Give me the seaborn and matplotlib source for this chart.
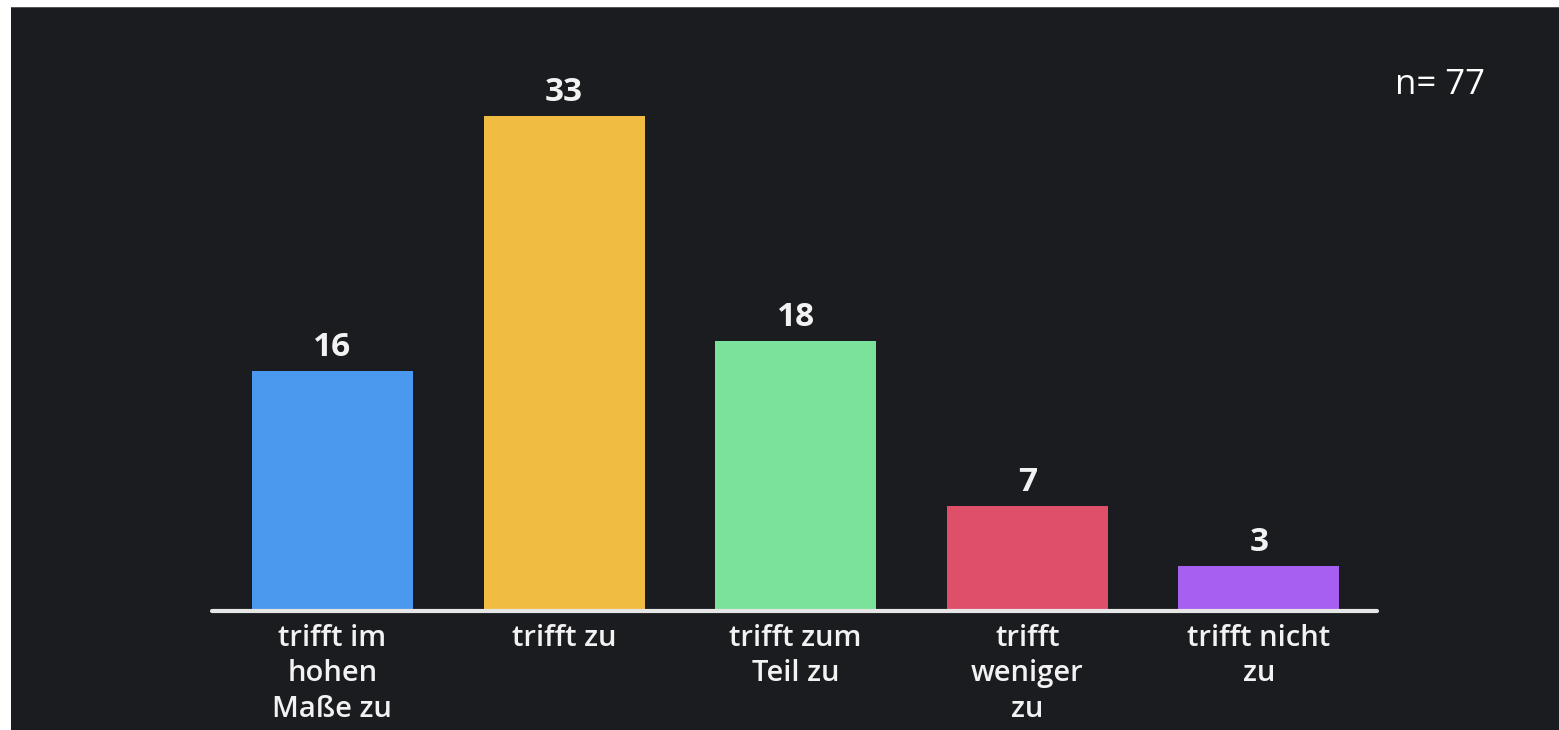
import matplotlib
matplotlib.use("Agg")
import matplotlib.pyplot as plt
import seaborn as sns
import pandas as pd
from matplotlib.patches import Rectangle

categories = ["trifft im\nhohen\nMaße zu", "trifft zu", "trifft zum\nTeil zu", "trifft\nweniger\nzu", "trifft nicht\nzu"]
values = [16, 33, 18, 7, 3]
colors = ["#4b99ef", "#f1bc42", "#7be29b", "#e04f69", "#a65ff1"]
n_label = "n= 77"

BG = "#1b1c1f"
sns.set_theme(style="white")
plt.rcParams['font.family'] = ['Open Sans', 'DejaVu Sans']

fig = plt.figure(figsize=(15.59, 7.30), dpi=100)
fig.patch.set_facecolor("white")
fig.patches.append(Rectangle((11/1559, 0), 1 - 11/1559, 1 - 7/730, transform=fig.transFigure,
                             facecolor=BG, edgecolor="none", zorder=-10))
fig.patches.append(Rectangle((11/1559, 1 - 8/730), 1 - 11/1559, 1.5/730, transform=fig.transFigure,
                             facecolor="#555555", edgecolor="none", zorder=-10))

ax = fig.add_axes([212/1559, 119/730, (1377-212)/1559, 0.719])
ax.set_facecolor("none")

df = pd.DataFrame({"cat": categories, "val": values})
sns.barplot(data=df, x="cat", y="val", hue="cat", palette=colors, legend=False,
            width=0.695, saturation=1, linewidth=0, edgecolor="none", ax=ax)

ax.set_xlim(-0.52, 4.51)
ax.set_ylim(0, 35)
for c in ax.containers:
    ax.bar_label(c, labels=[str(int(v)) for v in c.datavalues], padding=5, color="#f2f2f2",
                 fontsize=24, fontweight="bold")

for s in ["top", "right", "left"]:
    ax.spines[s].set_visible(False)
ax.spines["bottom"].set_color("#e6e6e6")
ax.spines["bottom"].set_linewidth(3)
ax.spines["bottom"].set_capstyle("round")
ax.set_yticks([])
ax.set_xlabel("")
ax.set_ylabel("")
ax.tick_params(axis="x", length=0, pad=9)
for lab in ax.get_xticklabels():
    lab.set_color("#f2f2f2")
    lab.set_fontsize(21)
    lab.set_fontweight("semibold")
    lab.set_linespacing(1.3)
    lab.set_ha("center")
    lab.set_multialignment("center")

fig.text(1395/1559, 1 - 85/730, n_label, color="white", fontsize=25, ha="left", va="center")

fig.savefig("out.png", dpi=100, facecolor=fig.get_facecolor())
